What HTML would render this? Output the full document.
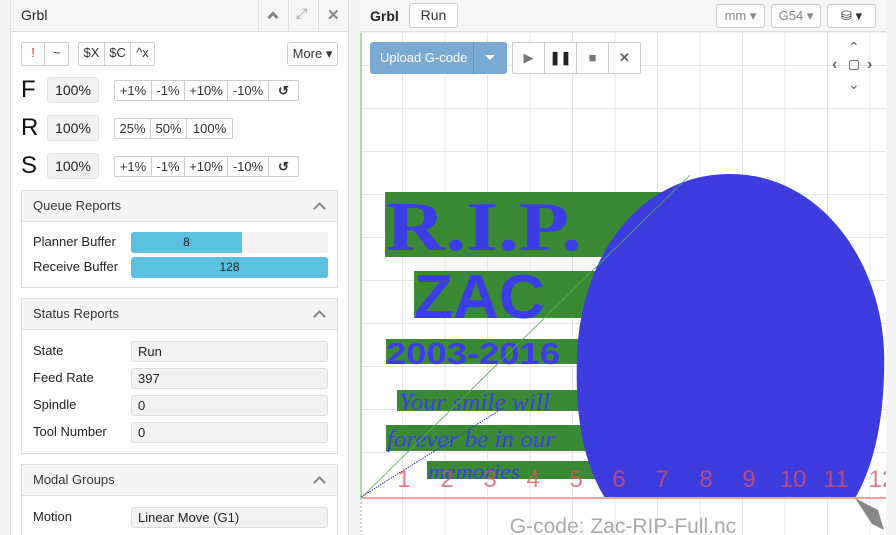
<!DOCTYPE html>
<html><head><meta charset="utf-8"><style>
*{box-sizing:border-box;margin:0;padding:0}
html,body{width:896px;height:535px;overflow:hidden}
body{background:#f3f3f3;font-family:"Liberation Sans",sans-serif;font-size:13px;color:#222;position:relative}
.a{position:absolute}
.btn{position:absolute;border:1px solid #ccc;background:#fff;border-radius:3px;text-align:center;color:#333}
.grp{position:absolute;display:flex;border:1px solid #ccc;border-radius:2px;background:#fff}
.grp span{border-right:1px solid #ccc;text-align:center;line-height:20px;font-size:13px;color:#333}
.grp span:last-child{border-right:none}
.big{position:absolute;font-size:24px;color:#111}
.pct{position:absolute;width:52px;height:26px;background:#f2f2f2;border:1px solid #e2e2e2;border-radius:3px;text-align:center;line-height:24px;font-size:14px}
.panel{position:absolute;left:21px;width:317px;border:1px solid #ddd;background:#fff;overflow:hidden}
.ph{height:31px;background:#f5f5f5;border-bottom:1px solid #ddd;padding-left:11px;line-height:30px;font-size:13px;color:#333;position:relative}
.ph:after{content:"";position:absolute;right:13px;top:13px;width:7px;height:7px;border-left:2px solid #888;border-top:2px solid #888;transform:rotate(45deg)}
.lb{position:absolute;left:11px;font-size:13px}
.fld{position:absolute;left:109px;width:197px;height:21px;background:#f2f2f2;border:1px solid #ddd;border-radius:3px;padding-left:6px;line-height:20px;font-size:13px}
</style></head><body>
<div class="a" style="left:10px;top:0;width:339px;height:535px;background:#fff;border-left:1px solid #ddd;border-right:1px solid #ddd"></div>
<div class="a" style="left:11px;top:0;width:337px;height:32px;background:#f6f6f6;border-bottom:1px solid #ddd"></div>
<div class="a" style="left:21px;top:7px;font-size:14px;color:#222">Grbl</div>
<div class="a" style="left:258px;top:0;width:1px;height:32px;background:#ddd"></div>
<div class="a" style="left:288px;top:0;width:1px;height:32px;background:#ddd"></div>
<div class="a" style="left:318px;top:0;width:1px;height:32px;background:#ddd"></div>
<div class="a" style="left:269px;top:13px;width:8px;height:8px;border-left:3px solid #888;border-top:3px solid #888;transform:rotate(45deg)"></div>
<div class="a" style="left:296px;top:5px;font-size:14px;color:#999">⤢</div>
<div class="a" style="left:327px;top:6px;font-size:15px;color:#888;font-weight:bold">✕</div>

<div class="grp" style="left:21px;top:42px;height:24px"><span style="width:23px;color:#c33">!</span><span style="width:23px">~</span></div>
<div class="grp" style="left:78px;top:42px;height:24px"><span style="width:26px">$X</span><span style="width:26px">$C</span><span style="width:23px">^x</span></div>
<div class="btn" style="left:287px;top:42px;width:51px;height:24px;line-height:22px">More ▾</div>

<div class="big" style="left:21px;top:76px">F</div><div class="pct" style="left:47px;top:77px">100%</div>
<div class="grp" style="left:114px;top:80px;height:21px"><span style="width:37px">+1%</span><span style="width:33px">-1%</span><span style="width:43px">+10%</span><span style="width:41px">-10%</span><span style="width:29px;font-weight:bold">↺</span></div>
<div class="big" style="left:21px;top:114px">R</div><div class="pct" style="left:47px;top:115px">100%</div>
<div class="grp" style="left:114px;top:118px;height:21px"><span style="width:36px">25%</span><span style="width:36px">50%</span><span style="width:45px">100%</span></div>
<div class="big" style="left:21px;top:152px">S</div><div class="pct" style="left:47px;top:153px">100%</div>
<div class="grp" style="left:114px;top:156px;height:21px"><span style="width:37px">+1%</span><span style="width:33px">-1%</span><span style="width:43px">+10%</span><span style="width:41px">-10%</span><span style="width:29px;font-weight:bold">↺</span></div>

<div class="panel" style="top:190px;height:98px"><div class="ph">Queue Reports</div>
<div class="lb" style="top:43px">Planner Buffer</div>
<div class="a" style="left:109px;top:41px;width:197px;height:21px;background:#f2f2f2;border-radius:3px"></div>
<div class="a" style="left:109px;top:41px;width:111px;height:21px;background:#5bc0de;border-radius:3px 0 0 3px;text-align:center;line-height:21px;font-size:12px">8</div>
<div class="lb" style="top:68px">Receive Buffer</div>
<div class="a" style="left:109px;top:66px;width:197px;height:21px;background:#5bc0de;border-radius:3px;text-align:center;line-height:21px;font-size:12px">128</div>
</div>
<div class="panel" style="top:298px;height:156px"><div class="ph">Status Reports</div>
<div class="lb" style="top:44px">State</div><div class="fld" style="top:42px">Run</div>
<div class="lb" style="top:71px">Feed Rate</div><div class="fld" style="top:69px">397</div>
<div class="lb" style="top:98px">Spindle</div><div class="fld" style="top:96px">0</div>
<div class="lb" style="top:125px">Tool Number</div><div class="fld" style="top:123px">0</div>
</div>
<div class="panel" style="top:464px;height:71px;border-bottom:none"><div class="ph">Modal Groups</div>
<div class="lb" style="top:44px">Motion</div><div class="fld" style="top:42px">Linear Move (G1)</div>
</div>

<div class="a" style="left:360px;top:0;width:526px;height:32px;background:#f6f6f6;border-bottom:1px solid #ddd"></div>
<div class="a" style="left:370px;top:8px;font-size:14px;font-weight:bold">Grbl</div>
<div class="btn" style="left:409px;top:3px;width:49px;height:25px;line-height:23px;font-size:14px">Run</div>
<div class="btn" style="left:716px;top:4px;width:49px;height:24px;line-height:22px;color:#888">mm ▾</div>
<div class="btn" style="left:771px;top:4px;width:50px;height:24px;line-height:22px;color:#888">G54 ▾</div>
<div class="btn" style="left:827px;top:4px;width:49px;height:24px;line-height:22px">⛁ ▾</div>

<svg class="a" style="left:360px;top:33px" width="526" height="502" viewBox="360 33 526 502">
<rect x="360" y="33" width="526" height="502" fill="#fff"/>
<g stroke="#e6e6e6" stroke-width="1">
<line x1="402.5" y1="33" x2="402.5" y2="535"/><line x1="445" y1="33" x2="445" y2="535"/><line x1="487.5" y1="33" x2="487.5" y2="535"/><line x1="530" y1="33" x2="530" y2="535"/><line x1="572.5" y1="33" x2="572.5" y2="535"/><line x1="615" y1="33" x2="615" y2="535"/><line x1="657.5" y1="33" x2="657.5" y2="535"/><line x1="700" y1="33" x2="700" y2="535"/><line x1="742.5" y1="33" x2="742.5" y2="535"/><line x1="785" y1="33" x2="785" y2="535"/><line x1="827.5" y1="33" x2="827.5" y2="535"/><line x1="870" y1="33" x2="870" y2="535"/>
<line x1="360" y1="65.5" x2="886" y2="65.5"/><line x1="360" y1="108.5" x2="886" y2="108.5"/><line x1="360" y1="151.5" x2="886" y2="151.5"/><line x1="360" y1="194.5" x2="886" y2="194.5"/><line x1="360" y1="237.5" x2="886" y2="237.5"/><line x1="360" y1="280.5" x2="886" y2="280.5"/><line x1="360" y1="323.5" x2="886" y2="323.5"/><line x1="360" y1="366.5" x2="886" y2="366.5"/><line x1="360" y1="409.5" x2="886" y2="409.5"/><line x1="360" y1="452.5" x2="886" y2="452.5"/>
</g>
<line x1="361" y1="33" x2="361" y2="498" stroke="#9c9" stroke-width="1.5"/>
<line x1="361" y1="498" x2="361" y2="535" stroke="#99c" stroke-width="1" stroke-dasharray="2,2"/>
<g fill="#3a8a35">
<rect x="385" y="192" width="290" height="65"/><rect x="414" y="271" width="190" height="47"/><rect x="386" y="339" width="200" height="25"/><rect x="397" y="390" width="186" height="21"/><rect x="386" y="425" width="200" height="26"/><rect x="427" y="461" width="170" height="18"/>
</g>
<path d="M605,498 C578,455 574,395 578,340 C588,240 650,174 730,174 C820,174 880,260 884,350 C886,420 872,470 855,498 Z" fill="#3d3ddf"/>
<g fill="#3d3de6">
<text x="386" y="250" font-family="Liberation Serif,serif" font-weight="bold" font-size="70" textLength="196" lengthAdjust="spacingAndGlyphs">R.I.P.</text>
<text x="414" y="318" font-family="Liberation Sans,sans-serif" font-weight="bold" font-size="62" textLength="131" lengthAdjust="spacingAndGlyphs">ZAC</text>
<text x="386" y="364" font-family="Liberation Sans,sans-serif" font-weight="bold" font-size="31" textLength="174" lengthAdjust="spacingAndGlyphs">2003-2016</text>
<text x="399" y="410" font-family="Liberation Serif,serif" font-style="italic" font-size="24" textLength="151" lengthAdjust="spacingAndGlyphs">Your smile will</text>
<text x="387" y="447" font-family="Liberation Serif,serif" font-style="italic" font-size="24" textLength="168" lengthAdjust="spacingAndGlyphs">forever be in our</text>
<text x="428" y="479" font-family="Liberation Serif,serif" font-style="italic" font-size="22" textLength="92" lengthAdjust="spacingAndGlyphs">memories</text>
</g>
<line x1="361" y1="498" x2="690" y2="175" stroke="#5a5" stroke-width="0.8"/>
<line x1="361" y1="497" x2="500" y2="410" stroke="#33d" stroke-width="1" stroke-dasharray="1.5,1"/>
<line x1="361" y1="498" x2="886" y2="498" stroke="#f2a0a0" stroke-width="2"/>
<g fill="#e05060" fill-opacity="0.75" font-family="Liberation Sans,sans-serif" font-size="24" text-anchor="middle">
<text x="404" y="487">1</text><text x="447" y="487">2</text><text x="490" y="487">3</text><text x="533" y="487">4</text><text x="576" y="487">5</text><text x="619" y="487">6</text><text x="662" y="487">7</text><text x="706" y="487">8</text><text x="749" y="487">9</text><text x="793" y="487">10</text><text x="836" y="487">11</text><text x="882" y="487">12</text>
</g>
<path d="M855,498 L878,510 L884,530 L872,524 Z" fill="#888"/>
<text x="623" y="533" font-family="Liberation Sans,sans-serif" font-size="21" fill="#aaa" text-anchor="middle">G-code: Zac-RIP-Full.nc</text>
</svg>

<div class="a" style="left:370px;top:42px;width:137px;height:32px;background:#7aa9d2;border-radius:3px"></div>
<div class="a" style="left:380px;top:50px;color:#fff;font-size:13px">Upload G-code</div>
<div class="a" style="left:473px;top:42px;width:1px;height:32px;background:#6a95bd"></div>
<div class="a" style="left:485px;top:55px;border-left:5px solid transparent;border-right:5px solid transparent;border-top:5px solid #fff"></div>
<div class="grp" style="left:512px;top:42px;height:32px">
<span style="width:32px;line-height:30px;color:#777">▶</span><span style="width:32px;line-height:30px;color:#222;font-weight:bold">❚❚</span><span style="width:32px;line-height:30px;color:#777">■</span><span style="width:31px;line-height:30px;color:#666;font-weight:bold">✕</span></div>
<div class="a" style="left:848px;top:39px;color:#666;font-size:14px">⌃</div>
<div class="a" style="left:832px;top:56px;color:#666;font-size:16px;font-weight:bold">‹</div>
<div class="a" style="left:849px;top:60px;width:10px;height:10px;border:1px solid #777;border-radius:2px"></div>
<div class="a" style="left:867px;top:56px;color:#666;font-size:16px;font-weight:bold">›</div>
<div class="a" style="left:848px;top:76px;color:#666;font-size:14px">⌄</div>
</body></html>
